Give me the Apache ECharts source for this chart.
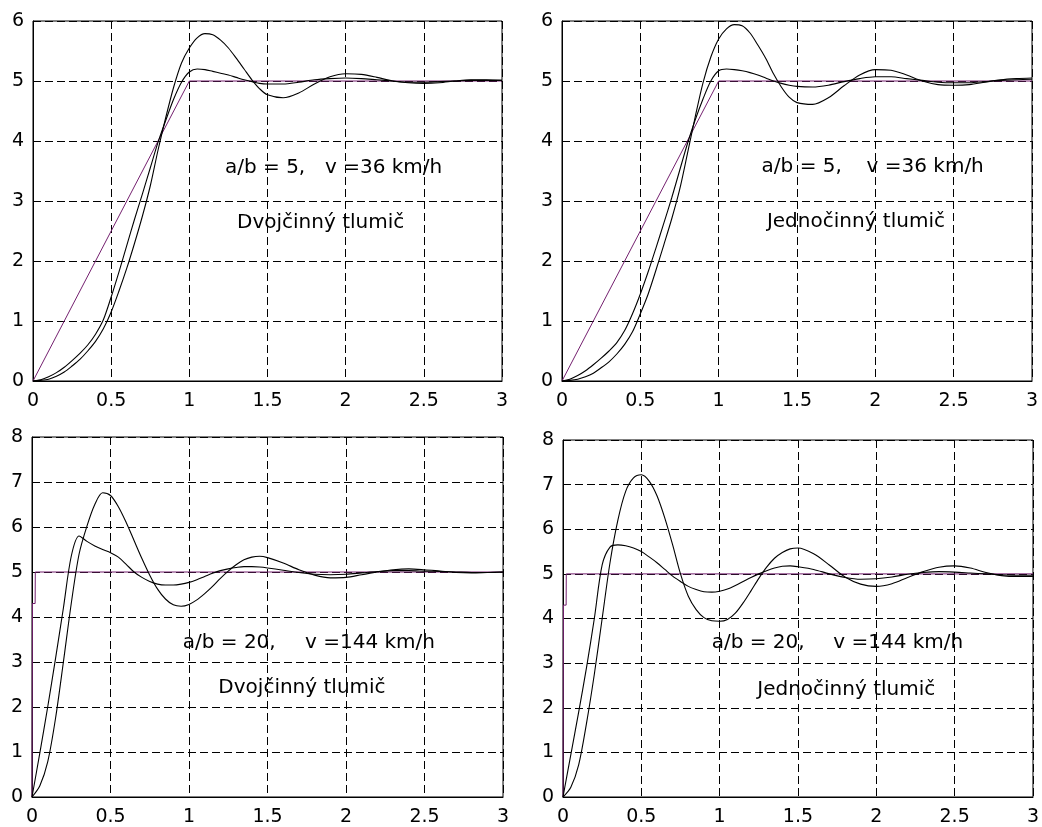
<!DOCTYPE html>
<html>
<head>
<meta charset="utf-8">
<script src="https://cdn.jsdelivr.net/npm/echarts@6/dist/echarts.min.js"></script>
<style>
html,body{margin:0;padding:0;background:#fff;}
#c{width:1042px;height:827px;}
</style>
</head>
<body>
<div id="c"></div>
<script>
// ---------- DATA ----------
// common time grid for the response curves (s)
const t = [0,0.05,0.1,0.15,0.2,0.25,0.3,0.35,0.4,0.45,0.5,0.55,0.6,0.65,0.7,0.75,0.8,0.85,0.9,0.95,
           1.0,1.05,1.1,1.15,1.2,1.25,1.3,1.35,1.4,1.45,1.5,1.6,1.7,1.8,1.9,2.0,2.1,2.2,2.3,2.4,2.5,2.6,2.7,2.8,2.9,3.0];

// top-left: a/b = 5, v = 36 km/h, Dvojčinný tlumič
const tlHigh = [0,0.01,0.03,0.08,0.15,0.25,0.36,0.5,0.66,0.87,1.15,1.5,1.88,2.3,2.75,3.25,3.85,4.4,4.9,5.3,
                5.55,5.72,5.79,5.77,5.68,5.55,5.38,5.2,5.02,4.87,4.77,4.72,4.8,4.95,5.07,5.12,5.11,5.06,5.0,4.97,4.96,4.97,5.0,5.02,5.02,5.01];
const tlLow  = [0,0.02,0.07,0.14,0.23,0.34,0.46,0.6,0.78,1.02,1.4,1.82,2.26,2.7,3.12,3.55,3.98,4.35,4.7,4.98,
                5.15,5.2,5.19,5.16,5.13,5.1,5.06,5.02,4.99,4.96,4.95,4.95,4.98,5.02,5.04,5.05,5.04,5.02,5.0,4.98,4.98,4.99,5.0,5.01,5.01,5.01];

// top-right: a/b = 5, v = 36 km/h, Jednočinný tlumič
const trHigh = [0,0.01,0.03,0.07,0.13,0.22,0.32,0.45,0.61,0.82,1.12,1.45,1.85,2.27,2.7,3.18,3.78,4.4,4.97,5.4,
                5.7,5.87,5.94,5.92,5.8,5.6,5.38,5.12,4.9,4.73,4.64,4.61,4.72,4.92,5.1,5.19,5.18,5.1,5.0,4.94,4.93,4.94,4.98,5.02,5.04,5.05];
const trLow  = [0,0.03,0.09,0.17,0.27,0.38,0.5,0.64,0.84,1.12,1.45,1.82,2.22,2.63,3.05,3.5,3.95,4.35,4.7,5.0,
                5.17,5.2,5.19,5.17,5.14,5.1,5.05,5.0,4.96,4.93,4.91,4.9,4.93,4.99,5.04,5.07,5.07,5.04,5.01,4.98,4.97,4.97,4.99,5.01,5.02,5.03];

// bottom-left: a/b = 20, v = 144 km/h, Dvojčinný tlumič
const blHigh = [0,0.25,0.78,1.75,3.0,4.3,5.4,6.02,6.5,6.76,6.7,6.45,6.1,5.7,5.3,4.93,4.62,4.4,4.27,4.24,
                4.28,4.38,4.52,4.68,4.86,5.02,5.16,5.27,5.33,5.35,5.32,5.2,5.05,4.93,4.87,4.88,4.94,5.0,5.05,5.07,5.05,5.02,4.99,4.98,4.99,5.0];
const blLow  = [0,0.98,2.0,3.08,4.2,5.35,5.8,5.68,5.58,5.5,5.43,5.33,5.17,5.0,4.88,4.79,4.73,4.71,4.71,4.73,
                4.77,4.83,4.9,4.97,5.03,5.07,5.1,5.12,5.12,5.11,5.09,5.04,4.99,4.95,4.94,4.95,4.98,5.01,5.03,5.03,5.02,5.01,5.0,4.99,4.99,5.0];

// bottom-right: a/b = 20, v = 144 km/h, Jednočinný tlumič
const brHigh = [0,0.22,0.72,1.65,2.75,4.0,5.25,6.2,6.85,7.15,7.22,7.08,6.75,6.25,5.65,5.0,4.5,4.2,4.02,3.95,
                3.94,3.98,4.12,4.35,4.62,4.9,5.15,5.35,5.48,5.56,5.58,5.45,5.2,4.93,4.77,4.72,4.78,4.92,5.05,5.15,5.18,5.13,5.03,4.96,4.94,4.94];
const brLow  = [0,0.95,1.9,2.9,4.0,5.2,5.6,5.65,5.63,5.58,5.5,5.38,5.25,5.1,4.95,4.83,4.72,4.65,4.6,4.59,
                4.61,4.66,4.74,4.83,4.92,5.0,5.07,5.13,5.17,5.18,5.16,5.1,5.0,4.92,4.88,4.89,4.93,4.99,5.03,5.05,5.04,5.02,5.0,4.98,4.97,4.97];

// road input (purple)
const rampT = [0, 1, 3];
const rampV = [0, 5, 5];
const stepT = [0, 0.003, 0.02, 0.021, 3];
const stepV = [0, 4.3, 4.3, 5, 5];

// axis ticks
const xTicks = [0, 0.5, 1, 1.5, 2, 2.5, 3];
const yMaxTop = 6, yMaxBottom = 8;

// annotations [panel, x, y, text]
const notes = [
  [0, 1.228, 3.55, 'a/b = 5,'], [0, 1.868, 3.55, 'v =36 km/h'], [0, 1.305, 2.64, 'Dvojčinný tlumič'],
  [1, 1.274, 3.57, 'a/b = 5,'], [1, 1.944, 3.57, 'v =36 km/h'], [1, 1.308, 2.655, 'Jednočinný tlumič'],
  [2, 0.960, 3.43, 'a/b = 20,'], [2, 1.739, 3.43, 'v =144 km/h'], [2, 1.187, 2.43, 'Dvojčinný tlumič'],
  [3, 0.949, 3.45, 'a/b = 20,'], [3, 1.725, 3.45, 'v =144 km/h'], [3, 1.240, 2.40, 'Jednočinný tlumič']
];

// ---------- CHART ----------
const zip = (xs, ys) => xs.map((x, i) => [x, ys[i]]);
const panels = [
  {high: tlHigh, low: tlLow, inT: rampT, inV: rampV, ymax: yMaxTop},
  {high: trHigh, low: trLow, inT: rampT, inV: rampV, ymax: yMaxTop},
  {high: blHigh, low: blLow, inT: stepT, inV: stepV, ymax: yMaxBottom},
  {high: brHigh, low: brLow, inT: stepT, inV: stepV, ymax: yMaxBottom}
];
const grids = [
  {left: 33, top: 21, width: 469, height: 360},
  {left: 562, top: 21, width: 470, height: 360},
  {left: 32, top: 437, width: 471, height: 361},
  {left: 563, top: 440, width: 470, height: 358}
];
const FONT = 'DejaVu Sans';
const gridLine = {show: true, lineStyle: {color: '#000', width: 1, type: [8, 4]}};

const option = {
  animation: false,
  backgroundColor: '#fff',
  grid: grids.map(g => Object.assign({show: true, borderColor: '#000', borderWidth: 1, backgroundColor: '#fff'}, g)),
  xAxis: panels.map((p, i) => ({
    type: 'value', gridIndex: i, min: xTicks[0], max: xTicks[xTicks.length - 1], interval: xTicks[1] - xTicks[0],
    axisLine: {show: true, lineStyle: {color: '#000', width: 1}},
    axisTick: {show: false},
    axisLabel: {color: '#000', fontFamily: FONT, fontSize: 19, margin: 11},
    splitLine: gridLine
  })),
  yAxis: panels.map((p, i) => ({
    type: 'value', gridIndex: i, min: 0, max: p.ymax, interval: 1,
    axisLine: {show: true, lineStyle: {color: '#000', width: 1}},
    axisTick: {show: false},
    axisLabel: {color: '#000', fontFamily: FONT, fontSize: 19, margin: 9},
    splitLine: gridLine
  })),
  series: []
};

panels.forEach((p, i) => {
  option.series.push({
    type: 'line', xAxisIndex: i, yAxisIndex: i, data: zip(p.inT, p.inV),
    showSymbol: false, lineStyle: {color: '#74206f', width: 1}, silent: true, z: 3
  });
  option.series.push({
    type: 'line', xAxisIndex: i, yAxisIndex: i, data: zip(t, p.high), smooth: 0.3,
    showSymbol: false, lineStyle: {color: '#000', width: 1.1}, silent: true, z: 4
  });
  option.series.push({
    type: 'line', xAxisIndex: i, yAxisIndex: i, data: zip(t, p.low), smooth: 0.3,
    showSymbol: false, lineStyle: {color: '#000', width: 1.1}, silent: true, z: 4
  });
  option.series.push({
    type: 'scatter', xAxisIndex: i, yAxisIndex: i, silent: true, z: 5,
    symbolSize: 0, itemStyle: {color: '#000', opacity: 1},
    data: notes.filter(n => n[0] === i).map(n => ({value: [n[1], n[2]], name: n[3]})),
    label: {show: true, position: 'right', distance: 0, formatter: '{b}',
            color: '#000', opacity: 1, textBorderWidth: 0, fontFamily: FONT, fontSize: 20}
  });
});

const chart = echarts.init(document.getElementById('c'), null, {renderer: 'canvas'});
chart.setOption(option);
</script>
</body>
</html>
